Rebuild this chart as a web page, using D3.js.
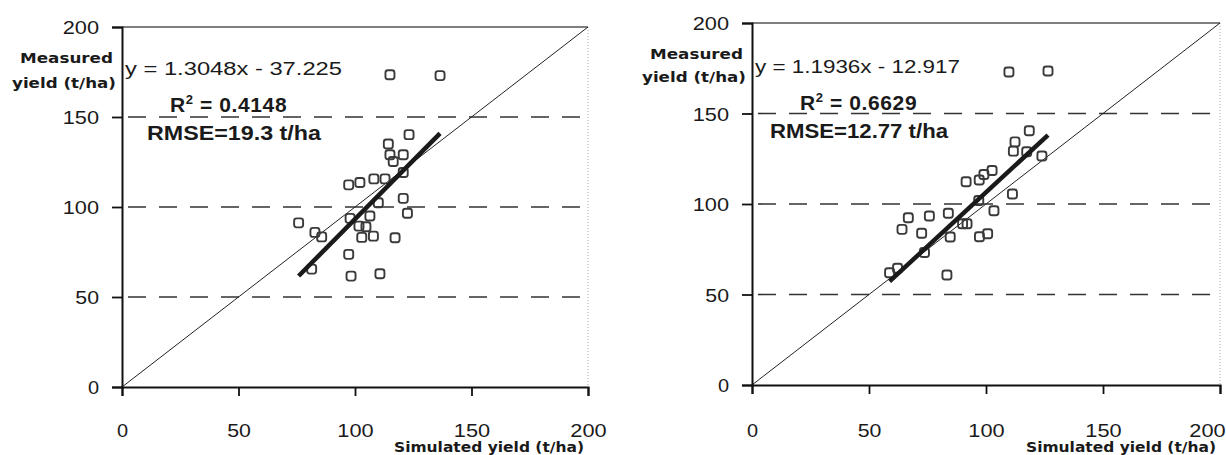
<!DOCTYPE html>
<html>
<head>
<meta charset="utf-8">
<script src="https://cdn.jsdelivr.net/npm/d3@7"></script>
<style>
  body { margin: 0; background: #fff; }
  svg { display: block; }
</style>
</head>
<body>
<svg id="chart" width="1226" height="455"></svg>
<script>
// ticks and dashed levels
var axisTicks = [0, 50, 100, 150, 200];
var gridLevels = [50, 100, 150];

// left panel: simulated vs measured yield (t/ha)
var leftSimulated = [123.2, 114.3, 115, 120.7, 116.4, 120.7, 97.3, 102.1, 108.1, 112.9,
  110, 120.7, 122.5, 75.8, 82.8, 85.7, 106.4, 101.7, 104.7, 97.9,
  102.9, 107.9, 117.2, 97.3, 81.4, 98.3, 110.7, 115, 136.5];
var leftMeasured = [140.2, 135, 129, 129, 125.3, 119.2, 112.3, 113.6, 115.6, 115.6,
  102.4, 104.8, 96.5, 91.2, 85.9, 83.4, 95, 89.4, 89, 93.7,
  83.1, 83.8, 82.9, 73.7, 65.5, 61.6, 62.9, 173.5, 173];
var leftFit = [1.3048, -37.225];
var leftText = ['y = 1.3048x - 37.225', ' = 0.4148', 'RMSE=19.3 t/ha'];

// right panel
var rightSimulated = [118.5, 112.4, 111.7, 117.4, 123.9, 102.6, 99.1, 97.1, 91.5, 111.3,
  96.9, 103.4, 66.8, 75.8, 83.9, 64.1, 72.5, 90, 91.9, 84.7,
  97.2, 100.7, 73.7, 58.8, 62.2, 83.3, 109.8, 126.5];
var rightMeasured = [140.5, 134.3, 129.2, 128.9, 126.5, 118.5, 116.3, 113.3, 112.3, 105.5,
  101.9, 96.3, 92.4, 93.4, 94.9, 86, 83.8, 89.1, 89.1, 81.8,
  81.9, 83.6, 73.2, 62, 64.5, 60.8, 172.9, 173.5];
var rightFit = [1.1936, -12.917];
var rightText = ['y = 1.1936x - 12.917', ' = 0.6629', 'RMSE=12.77 t/ha'];

var svg = d3.select('#chart');

function drawPanel(p) {
  var x = d3.scaleLinear().domain([0, 200]).range([p.left, p.right]);
  var y = d3.scaleLinear().domain([0, 200]).range([p.bottom, p.top]);
  var g = svg.append('g');

  // frame: top solid, right dotted
  g.append('line').attr('x1', x(0)).attr('x2', x(200)).attr('y1', y(200)).attr('y2', y(200))
    .attr('stroke', '#555').attr('stroke-width', 1.5);
  g.append('line').attr('x1', x(200)).attr('x2', x(200)).attr('y1', y(200)).attr('y2', y(0))
    .attr('stroke', '#aaa').attr('stroke-width', 1).attr('stroke-dasharray', '1,2');

  // dashed levels
  g.selectAll('.grid').data(gridLevels).enter().append('line')
    .attr('x1', x(0)).attr('x2', x(200))
    .attr('y1', d => y(d)).attr('y2', d => y(d))
    .attr('stroke', '#333').attr('stroke-width', 1.6)
    .attr('stroke-dasharray', '18,13').attr('stroke-dashoffset', -6);

  // 1:1 line
  g.append('line').attr('x1', x(0)).attr('y1', y(0)).attr('x2', x(200)).attr('y2', y(200))
    .attr('stroke', '#222').attr('stroke-width', 1);

  // axes
  var yAxis = g.append('g').attr('transform', 'translate(' + x(0) + ',0)')
    .call(d3.axisLeft(y).tickValues(axisTicks).tickSize(10).tickFormat(d3.format('d')));
  var xAxis = g.append('g').attr('transform', 'translate(0,' + y(0) + ')')
    .call(d3.axisBottom(x).tickValues(axisTicks).tickSize(9).tickFormat(d3.format('d')));
  [xAxis, yAxis].forEach(function(a) {
    a.select('.domain').attr('stroke', '#111').attr('stroke-width', 2);
    a.selectAll('.tick line').attr('stroke', '#111').attr('stroke-width', 1.8);
    a.selectAll('text').attr('fill', '#1a1a1a')
      .style('font-family', 'Liberation Sans, Arial, sans-serif').style('font-size', '19px')
      .attr('textLength', function(d) { return String(d).length * 12.6 - 1.5; })
      .attr('lengthAdjust', 'spacingAndGlyphs');
  });
  yAxis.selectAll('text').attr('x', -23).attr('dy', '0.36em');
  xAxis.selectAll('text').attr('y', 0).attr('dy', p.xLabelDy);
  if (p.lastLabelShift) {
    xAxis.selectAll('.tick').filter(d => d === 200).select('text').attr('x', p.lastLabelShift);
  }

  // points
  var pts = p.sim.map(function(s, i) { return [s, p.meas[i]]; });
  g.selectAll('.pt').data(pts).enter().append('rect')
    .attr('x', d => x(d[0]) - 4.5).attr('y', d => y(d[1]) - 4.5)
    .attr('width', 9).attr('height', 9).attr('rx', 2.5)
    .attr('fill', 'none').attr('stroke', '#3a3a3a').attr('stroke-width', 1.9);

  // trend line over data range
  var x0 = d3.min(p.sim), x1 = d3.max(p.sim);
  g.append('line')
    .attr('x1', x(x0)).attr('y1', y(p.fit[0] * x0 + p.fit[1]))
    .attr('x2', x(x1)).attr('y2', y(p.fit[0] * x1 + p.fit[1]))
    .attr('stroke', '#1a1a1a').attr('stroke-width', 4.5);

  // axis titles
  var bold = 'DejaVu Sans, Verdana, sans-serif';
  g.append('text').attr('x', x(0) - 9).attr('y', p.mY1).attr('text-anchor', 'end')
    .style('font-family', bold).style('font-weight', 'bold').style('font-size', '14px')
    .attr('fill', '#1a1a1a').attr('textLength', 93).attr('lengthAdjust', 'spacingAndGlyphs')
    .text('Measured');
  g.append('text').attr('x', x(0) - 6).attr('y', p.mY2).attr('text-anchor', 'end')
    .style('font-family', bold).style('font-weight', 'bold').style('font-size', '14px')
    .attr('fill', '#1a1a1a').attr('textLength', 104).attr('lengthAdjust', 'spacingAndGlyphs')
    .text('yield (t/ha)');
  g.append('text').attr('x', x(200) - 4).attr('y', 452).attr('text-anchor', 'end')
    .style('font-family', bold).style('font-weight', 'bold').style('font-size', '14px')
    .attr('fill', '#1a1a1a').attr('textLength', 190).attr('lengthAdjust', 'spacingAndGlyphs')
    .text('Simulated yield (t/ha)');

  // regression annotation
  g.append('text').attr('x', x(0) + 3).attr('y', p.eqY)
    .style('font-family', 'Liberation Sans, Arial, sans-serif').style('font-size', '18px')
    .attr('fill', '#1a1a1a').attr('textLength', p.eqW).attr('lengthAdjust', 'spacingAndGlyphs')
    .text(p.text[0]);
  var r2 = g.append('text').attr('x', p.r2X).attr('y', p.eqY + 37)
    .style('font-family', 'Liberation Sans, Arial, sans-serif').style('font-weight', 'bold')
    .style('font-size', '21px').style('letter-spacing', '0.6px').attr('fill', '#1a1a1a');
  r2.append('tspan').text('R');
  r2.append('tspan').attr('dy', -8).style('font-size', '13px').text('2');
  r2.append('tspan').attr('dy', 8).text(p.text[1]);
  g.append('text').attr('x', p.rmseX).attr('y', p.eqY + 65)
    .style('font-family', 'Liberation Sans, Arial, sans-serif').style('font-weight', 'bold')
    .style('font-size', '21px').attr('fill', '#1a1a1a')
    .attr('textLength', p.rmseW).attr('lengthAdjust', 'spacingAndGlyphs')
    .text(p.text[2]);
}

drawPanel({left: 122, right: 588, top: 27, bottom: 387, xLabelDy: 50,
  sim: leftSimulated, meas: leftMeasured, fit: leftFit, text: leftText,
  mY1: 63, mY2: 88, eqY: 75, eqW: 217, r2X: 170, rmseX: 147, rmseW: 174});
drawPanel({left: 752, right: 1220, top: 23, bottom: 385, xLabelDy: 52, lastLabelShift: -13,
  sim: rightSimulated, meas: rightMeasured, fit: rightFit, text: rightText,
  mY1: 59, mY2: 82, eqY: 73, eqW: 205, r2X: 800, rmseX: 770, rmseW: 178});
</script>
</body>
</html>
